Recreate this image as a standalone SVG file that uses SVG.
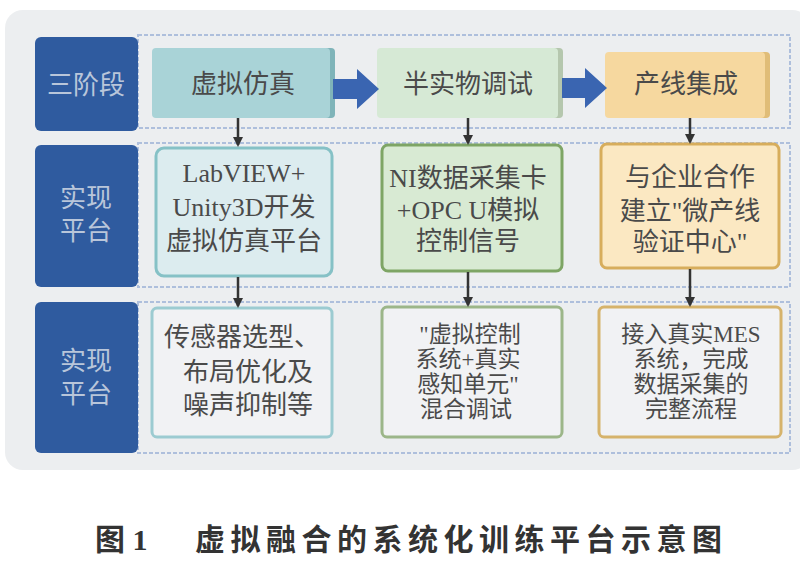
<svg xmlns="http://www.w3.org/2000/svg" width="800" height="568" viewBox="0 0 800 568">
<defs>
<style>
.t{font-family:"Liberation Serif","Noto Sans CJK SC",serif;text-anchor:middle;fill:#4a4a4a}
.lbl{font-family:"Liberation Serif","Noto Sans CJK SC",serif;text-anchor:middle;fill:#b9c6da;font-size:26px}
.side{fill:#2f5b9f}
.frame{fill:none;stroke:#aebfdc;stroke-width:2;stroke-dasharray:4 2}
.con{stroke:#333;stroke-width:2.5;fill:none}
.blk{fill:#3a65b1}
</style>
<marker id="ah" viewBox="0 0 10 10" refX="8" refY="5" markerWidth="4" markerHeight="4" orient="auto"><path d="M0,0L10,5L0,10z" fill="#333"/></marker>
</defs>
<rect width="800" height="568" fill="#ffffff"/>
<rect x="5" y="10" width="805" height="460" rx="18" fill="#eceef0"/>
<rect class="frame" x="138" y="35" width="652" height="93"/>
<rect class="frame" x="138" y="143" width="652" height="144"/>
<rect class="frame" x="138" y="302" width="652" height="151"/>

<g id="label1"><rect class="side" x="35" y="37" width="103" height="94" rx="6"/><text class="lbl" x="86" y="94">三阶段</text></g>
<g id="label2"><rect class="side" x="35" y="145" width="103" height="142" rx="6"/><text class="lbl" x="86" y="207">实现</text><text class="lbl" x="86" y="240">平台</text></g>
<g id="label3"><rect class="side" x="35" y="302" width="103" height="151" rx="6"/><text class="lbl" x="86" y="370">实现</text><text class="lbl" x="86" y="403">平台</text></g>

<g id="s1"><rect x="155" y="48" width="180" height="70" rx="4" fill="#7fb4b9"/><rect x="152" y="48" width="178" height="70" rx="4" fill="#a9d3d7"/><text class="t" x="243" y="93" font-size="26">虚拟仿真</text></g>
<g id="s2"><rect x="380" y="48" width="183" height="70" rx="4" fill="#b5c7ae"/><rect x="377" y="48" width="181" height="70" rx="4" fill="#d6e9d5"/><text class="t" x="468" y="93" font-size="26">半实物调试</text></g>
<g id="s3"><rect x="608" y="52" width="162" height="66" rx="4" fill="#e0bd78"/><rect x="605" y="52" width="160" height="66" rx="4" fill="#f6d89f"/><text class="t" x="686" y="93" font-size="26">产线集成</text></g>

<g id="p1"><rect x="156" y="148" width="176" height="128" rx="8" fill="#dcecef" stroke="#86c1c6" stroke-width="3"/><text class="t" x="244" y="182" font-size="26">LabVIEW+</text><text class="t" x="244" y="216" font-size="26">Unity3D开发</text><text class="t" x="244" y="250" font-size="26">虚拟仿真平台</text></g>
<g id="p2"><rect x="382" y="145" width="180" height="126" rx="6" fill="#d8ead3" stroke="#7ea565" stroke-width="3"/><text class="t" x="468" y="187" font-size="26">NI数据采集卡</text><text class="t" x="468" y="219" font-size="26">+OPC U模拟</text><text class="t" x="468" y="250" font-size="26">控制信号</text></g>
<g id="p3"><rect x="601" y="144" width="178" height="124" rx="6" fill="#fbe8c2" stroke="#d7ad5c" stroke-width="3"/><text class="t" x="690" y="186" font-size="26">与企业合作</text><text class="t" x="690" y="220" font-size="26">建立"微产线</text><text class="t" x="690" y="251" font-size="26">验证中心"</text></g>

<g id="k1"><rect x="152" y="308" width="180" height="129" rx="5" fill="#f1f2f4" stroke="#9ccbd1" stroke-width="3"/><text class="t" x="242" y="346" font-size="26">传感器选型、</text><text class="t" x="248" y="381" font-size="26">布局优化及</text><text class="t" x="248" y="414" font-size="26">噪声抑制等</text></g>
<g id="k2"><rect x="382" y="307" width="180" height="130" rx="5" fill="#f1f2f4" stroke="#9cb689" stroke-width="3"/><text class="t" x="470" y="342" font-size="23">"虚拟控制</text><text class="t" x="468" y="367" font-size="23">系统+真实</text><text class="t" x="468" y="392" font-size="23">感知单元"</text><text class="t" x="466" y="417" font-size="23">混合调试</text></g>
<g id="k3"><rect x="599" y="307" width="182" height="130" rx="5" fill="#f1f2f4" stroke="#d6b36b" stroke-width="3"/><text class="t" x="691" y="342" font-size="23">接入真实MES</text><text class="t" x="691" y="367" font-size="23">系统，完成</text><text class="t" x="691" y="392" font-size="23">数据采集的</text><text class="t" x="691" y="417" font-size="23">完整流程</text></g>

<g id="connectors">
<path class="blk" d="M333,79H357V69L379,89L357,109V99H333z"/>
<path class="blk" d="M562,78H585V68L607,88L585,108V98H562z"/>
<line class="con" x1="238" y1="118" x2="238" y2="145" marker-end="url(#ah)"/>
<line class="con" x1="468" y1="118" x2="468" y2="143" marker-end="url(#ah)"/>
<line class="con" x1="690" y1="118" x2="690" y2="142" marker-end="url(#ah)"/>
<line class="con" x1="238" y1="277" x2="238" y2="306" marker-end="url(#ah)"/>
<line class="con" x1="468" y1="272" x2="468" y2="305" marker-end="url(#ah)"/>
<line class="con" x1="690" y1="269" x2="690" y2="305" marker-end="url(#ah)"/>
</g>

<g id="caption"><text x="95" y="550" font-family="Liberation Serif,Noto Sans CJK SC,serif" font-size="30" font-weight="bold" fill="#333">图 1</text><text x="195" y="550" font-family="Liberation Serif,Noto Sans CJK SC,serif" font-size="30" font-weight="bold" fill="#333" letter-spacing="5.5">虚拟融合的系统化训练平台示意图</text></g>
</svg>
